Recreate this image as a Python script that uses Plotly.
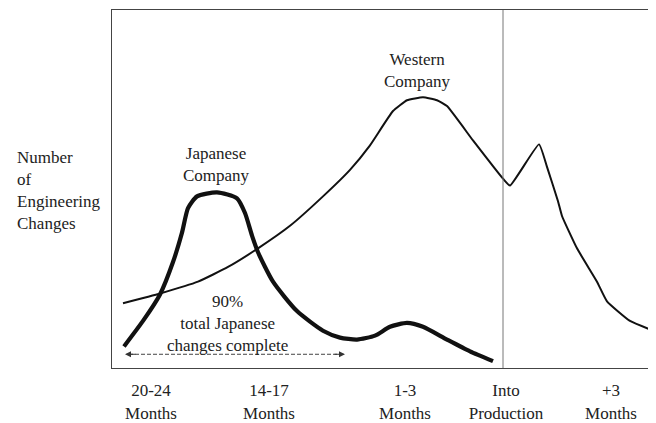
import plotly.graph_objects as go

# Timeline position (arbitrary units along the development schedule) and number of changes
japan_x = [12, 31, 48, 61, 70, 76, 85, 105, 125, 133, 140, 146, 161, 185, 211, 228, 245, 263, 278, 295, 311, 335, 358, 381]
japan_y = [22, 48, 75, 108, 138, 163, 175, 179, 173, 158, 135, 118, 88, 58, 38, 31, 29, 33, 42, 46, 42, 29, 17, 7]

west_x = [11, 48, 86, 116, 146, 178, 211, 238, 258, 281, 295, 311, 325, 335, 361, 391, 398, 427, 435, 446, 450, 465, 485, 495, 518, 544]
west_y = [66, 76, 88, 103, 122, 145, 175, 202, 227, 262, 273, 276, 273, 267, 232, 193, 186, 228, 205, 170, 155, 122, 88, 68, 48, 37]

tick_pos = [39, 157, 293, 394, 499]
tick_text = ["20-24<br>Months", "14-17<br>Months", "1-3<br>Months", "Into<br>Production", "+3<br>Months"]

production_x = 391
arrow_y = 14
arrow_x0, arrow_x1 = 13, 233

FONT = "Liberation Serif"
INK = "#111111"

fig = go.Figure()
fig.add_trace(go.Scatter(x=west_x, y=west_y, mode="lines",
                         line=dict(color=INK, width=2, shape="spline", smoothing=0.4),
                         hoverinfo="skip"))
fig.add_trace(go.Scatter(x=japan_x, y=japan_y, mode="lines",
                         line=dict(color=INK, width=4.2, shape="spline", smoothing=0.6),
                         hoverinfo="skip"))

fig.add_shape(type="line", x0=production_x, x1=production_x, y0=0, y1=1, xref="x", yref="paper",
              line=dict(color="#777777", width=1))
fig.add_shape(type="line", x0=arrow_x0 + 4, x1=arrow_x1 - 4, y0=arrow_y, y1=arrow_y,
              line=dict(color="#444444", width=1, dash="4px,2px"))

for xh, ax in [(arrow_x0, 12), (arrow_x1, -12)]:
    fig.add_annotation(x=xh, y=arrow_y, ax=ax, ay=0, text="", showarrow=True,
                       arrowhead=2, arrowsize=1.2, arrowwidth=1, arrowcolor="#333333")

tfont = dict(family=FONT, size=17, color="#222222")
fig.add_annotation(x=-0.178, y=0.497, xref="paper", yref="paper",
                   text="Number<br>of<br>Engineering<br>Changes", showarrow=False,
                   xanchor="left", yanchor="middle", align="left", font=tfont)
fig.add_annotation(x=104, y=207, text="Japanese<br>Company", showarrow=False,
                   xanchor="center", yanchor="middle", align="center", font=tfont)
fig.add_annotation(x=305, y=303, text="Western<br>Company", showarrow=False,
                   xanchor="center", yanchor="middle", align="center", font=tfont)
fig.add_annotation(x=115, y=45, text="90%<br>total Japanese<br>changes complete", showarrow=False,
                   xanchor="center", yanchor="middle", align="center", font=tfont)

# page body adds an 8px margin, so the figure is sized to fit the remaining window
fig.update_layout(
    width=648, height=415,
    margin=dict(l=104, r=0, t=2, b=48),
    paper_bgcolor="white", plot_bgcolor="white",
    showlegend=False,
    xaxis=dict(range=[0, 544], showgrid=False, zeroline=False, showline=True, mirror=True,
               linecolor="#444444", linewidth=1, ticks="", tickvals=tick_pos, ticktext=tick_text,
               tickfont=tfont, ticklabelstandoff=7, fixedrange=True),
    yaxis=dict(range=[0, 365], showgrid=False, zeroline=False, showline=True, mirror=False,
               linecolor="#444444", linewidth=1, showticklabels=False, ticks="", fixedrange=True),
)

fig.write_html("out.html")
